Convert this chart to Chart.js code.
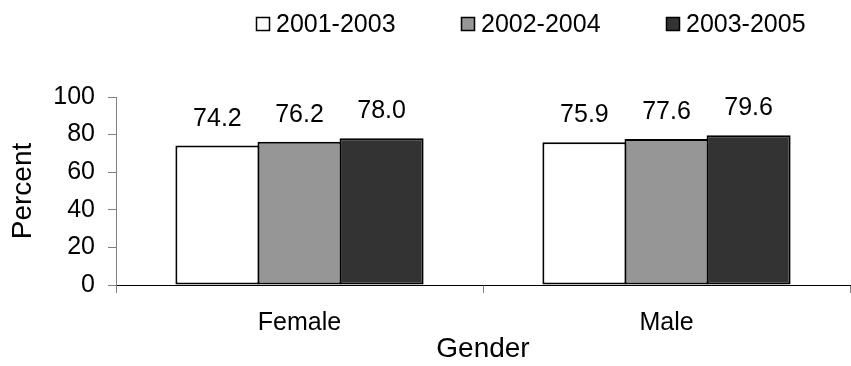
<!DOCTYPE html>
<html>
<head>
<meta charset="utf-8">
<script src="https://cdn.jsdelivr.net/npm/chart.js@4/dist/chart.umd.min.js"></script>
<style>
  html, body { margin: 0; padding: 0; background: #fff; }
  #wrap { width: 851px; height: 366px; }
</style>
</head>
<body>
<div id="wrap"><canvas id="c" width="851" height="366"></canvas></div>
<script>
// Data
const categories = ['Female', 'Male'];
const seriesNames = ['2001-2003', '2002-2004', '2003-2005'];
const values2001_2003 = [74.2, 75.9];
const values2002_2004 = [76.2, 77.6];
const values2003_2005 = [78.0, 79.6];
const yTicks = [0, 20, 40, 60, 80, 100];

const FONT = "'Liberation Sans', Arial, Helvetica, sans-serif";
const fills = ['#ffffff', '#969696', '#333333'];
const seriesValues = [values2001_2003, values2002_2004, values2003_2005];

// Value labels above every bar
const valueLabels = {
  id: 'valueLabels',
  afterDatasetsDraw(chart) {
    const ctx = chart.ctx;
    ctx.save();
    ctx.font = '25px ' + FONT;
    ctx.fillStyle = '#000';
    ctx.textAlign = 'center';
    ctx.textBaseline = 'alphabetic';
    chart.data.datasets.forEach((ds, i) => {
      chart.getDatasetMeta(i).data.forEach((bar, j) => {
        ctx.fillText(ds.data[j].toFixed(1), bar.x, bar.y - 20);
      });
    });
    ctx.restore();
  }
};

// Legend row across the top
const topLegend = {
  id: 'topLegend',
  afterDraw(chart) {
    const ctx = chart.ctx;
    const startX = 256, step = 205, boxTop = 17, box = 14;
    ctx.save();
    ctx.font = '25px ' + FONT;
    ctx.textBaseline = 'middle';
    ctx.textAlign = 'left';
    chart.data.datasets.forEach((ds, i) => {
      const x = startX + i * step;
      ctx.fillStyle = ds.backgroundColor;
      ctx.fillRect(x, boxTop, box, box);
      ctx.strokeStyle = '#000';
      ctx.lineWidth = 1.5;
      ctx.strokeRect(x + 0.5, boxTop + 0.5, box - 1, box - 1);
      ctx.fillStyle = '#000';
      ctx.fillText(ds.label, x + box + 6, boxTop + box / 2 + 1);
    });
    ctx.restore();
  }
};

new Chart(document.getElementById('c'), {
  type: 'bar',
  data: {
    labels: categories,
    datasets: seriesNames.map((name, i) => ({
      label: name,
      data: seriesValues[i],
      backgroundColor: fills[i],
      borderColor: '#000',
      borderWidth: 2,
      borderSkipped: false,
      categoryPercentage: 0.671,
      barPercentage: 1.024
    }))
  },
  options: {
    responsive: false,
    animation: false,
    devicePixelRatio: 1,
    layout: { padding: { top: 97, right: 1, bottom: 0, left: 0 } },
    plugins: { legend: { display: false }, tooltip: { enabled: false } },
    scales: {
      x: {
        grid: { display: true, drawOnChartArea: false, drawTicks: true, tickLength: 8, color: '#808080', offset: true },
        border: { display: true, color: '#000', width: 1 },
        ticks: { color: '#000', font: { family: FONT, size: 25 }, padding: 15 },
        title: { display: true, text: 'Gender', color: '#000', font: { family: FONT, size: 28 }, padding: { top: 0, bottom: 0 } },
        afterFit(axis) { axis.height = 81; }
      },
      y: {
        min: 0,
        max: 100,
        afterBuildTicks(axis) { axis.ticks = yTicks.map(v => ({ value: v })); },
        grid: { display: true, drawOnChartArea: false, drawTicks: true, tickLength: 8, color: '#808080' },
        border: { display: true, color: '#808080', width: 1 },
        ticks: { color: '#000', font: { family: FONT, size: 25 }, padding: 13 },
        title: { display: true, text: 'Percent', color: '#000', font: { family: FONT, size: 28 }, padding: { top: 6, bottom: 0 } },
        afterFit(axis) { axis.width = 116; }
      }
    }
  },
  plugins: [valueLabels, topLegend]
});
</script>
</body>
</html>
